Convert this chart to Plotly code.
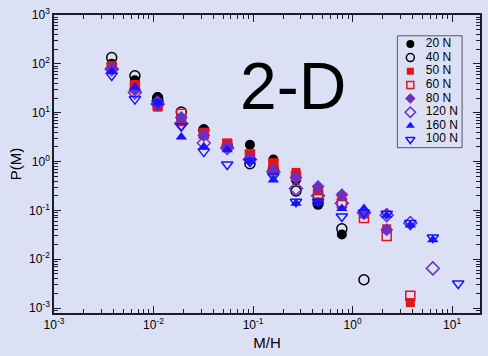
import plotly.graph_objects as go

# Bin centres of M/H
mh = [0.0038, 0.0065, 0.011, 0.019, 0.032, 0.055, 0.093, 0.16, 0.27, 0.45,
      0.78, 1.3, 2.2, 3.8, 6.4, 11.5]

names = ["20 N", "40 N", "50 N", "60 N", "80 N", "120 N", "160 N", "100 N"]

p20 = [100, 46, 21, 7.5, 4.6, 2.2, 2.2, 1.1, 0.42, 0.13, 0.032, None, None, None, None, None]
p40 = [135, 57, 20, 10.3, 4.4, 2.1, 0.9, 0.7, 0.25, 0.14, 0.042, 0.0038, None, None, None, None]
p50 = [92, 38, 13, 6.5, 4.0, 2.4, 1.4, 0.95, 0.6, 0.25, 0.19, 0.085, 0.042, 0.0013, None, None]
p60 = [85, 33, 14, 9.5, 3.7, 2.3, 1.4, 0.9, 0.5, 0.22, 0.14, 0.07, 0.03, 0.0018, None, None]
p80 = [80, 29, 17, 8.0, 3.4, 2.0, 1.15, 0.66, 0.47, 0.31, 0.21, 0.09, 0.04, None, None, None]
p120 = [78, 26, 15, 6.0, 2.4, 1.9, 1.1, 0.62, 0.28, 0.2, 0.14, 0.09, 0.08, 0.055, 0.0065, None]
p160 = [70, 33, 16, 3.2, 2.0, 1.75, 1.0, 0.42, 0.14, 0.14, 0.11, 0.11, 0.08, 0.05, 0.025, None]
p100 = [58, 19, 16, 5.3, 1.6, 0.87, 1.0, 0.5, 0.15, 0.15, 0.075, 0.09, 0.085, 0.055, 0.028, 0.0032]

series = [p20, p40, p50, p60, p80, p120, p160, p100]

x_tickvals = [1e-3, 1e-2, 1e-1, 1, 10]
x_ticktext = ["10<sup>-3</sup>", "10<sup>-2</sup>", "10<sup>-1</sup>", "10<sup>0</sup>", "10<sup>1</sup>"]
y_tickvals = [1e-3, 1e-2, 1e-1, 1, 10, 100, 1000]
y_ticktext = ["10<sup>-3</sup>", "10<sup>-2</sup>", "10<sup>-1</sup>", "10<sup>0</sup>",
              "10<sup>1</sup>", "10<sup>2</sup>", "10<sup>3</sup>"]


def minor_vals(decades):
    return [m * 10.0 ** d for d in decades for m in range(2, 10)]


RED = "#e3141c"
PURPLE = "#6b2fc4"
BLUE = "#1414ff"
styles = [
    dict(symbol="circle", color="black", line=dict(width=0)),
    dict(symbol="circle-open", color="black", line=dict(width=1.5, color="black")),
    dict(symbol="square", color=RED, line=dict(width=0)),
    dict(symbol="square-open", color=RED, line=dict(width=1.5, color=RED)),
    dict(symbol="diamond", color=PURPLE, line=dict(width=0)),
    dict(symbol="diamond-open", color=PURPLE, line=dict(width=1.5, color=PURPLE)),
    dict(symbol="triangle-up", color=BLUE, line=dict(width=0)),
    dict(symbol="triangle-down-open", color=BLUE, line=dict(width=1.5, color=BLUE)),
]
sizes = [10, 10, 9, 9, 10, 10, 10, 10]

BG = "#dce0f4"
AX = "#1c1c2c"
FONT = "Liberation Sans, Arial, sans-serif"

fig = go.Figure()
for name, ys, st, sz in zip(names, series, styles, sizes):
    fig.add_trace(go.Scatter(x=mh, y=ys, mode="markers", name=name,
                             marker=dict(size=sz, **st), showlegend=False))

# Manual legend (compact spacing) on a helper axis
for i, (name, st, sz) in enumerate(zip(names, styles, sizes)):
    fig.add_trace(go.Scatter(x=[0.2], y=[i], mode="markers",
                             marker=dict(size=sz - 2, **st), showlegend=False,
                             xaxis="x2", yaxis="y2", hoverinfo="skip"))
fig.add_trace(go.Scatter(x=[0.44] * len(names), y=list(range(len(names))), mode="text",
                         text=names, textposition="middle right",
                         textfont=dict(size=12, color="black", family=FONT),
                         showlegend=False, xaxis="x2", yaxis="y2", hoverinfo="skip"))

axis_common = dict(type="log", showline=True, linecolor=AX, linewidth=1.6,
                   mirror="ticks", ticks="inside", ticklen=7, tickwidth=1.3,
                   tickcolor=AX, showgrid=False, zeroline=False,
                   tickfont=dict(size=12, color="black", family=FONT))

fig.update_layout(
    width=488, height=356,
    margin=dict(l=54, r=6, t=12, b=43),
    paper_bgcolor=BG, plot_bgcolor=BG,
    font=dict(family=FONT, color="black"),
    xaxis=dict(range=[-3, 1.28], tickvals=x_tickvals, ticktext=x_ticktext,
               minor=dict(tickmode="array", tickvals=minor_vals(range(-3, 2)),
                          ticks="inside", ticklen=4, tickwidth=1, tickcolor=AX, showgrid=False),
               title=dict(text="M/H", font=dict(size=15), standoff=6), **axis_common),
    yaxis=dict(range=[-3.1, 3.0], tickvals=y_tickvals, ticktext=y_ticktext,
               minor=dict(tickmode="array", tickvals=minor_vals(range(-4, 3)),
                          ticks="inside", ticklen=4, tickwidth=1, tickcolor=AX, showgrid=False),
               title=dict(text="P(M)", font=dict(size=15), standoff=4), **axis_common),
    xaxis2=dict(domain=[(399 - 54) / 428, (464 - 54) / 428], range=[0, 1], visible=False,
                anchor="y2", fixedrange=True),
    yaxis2=dict(domain=[(356 - 43 - 146) / 301, (356 - 43 - 33) / 301], range=[7.6, -0.6],
                visible=False, anchor="x2", fixedrange=True),
    shapes=[dict(type="rect", xref="paper", yref="paper",
                 x0=(399 - 54) / 428, x1=(464 - 54) / 428,
                 y0=(356 - 43 - 146) / 301, y1=(356 - 43 - 33) / 301,
                 line=dict(color="#555566", width=1), fillcolor="rgba(0,0,0,0)")],
    annotations=[dict(text="2-D", xref="paper", yref="paper",
                      x=(294 - 54) / 428, y=(313 - 84) / 301, xanchor="center", yanchor="middle",
                      showarrow=False, font=dict(size=66, color="black", family=FONT))],
)

fig.write_html("out.html")
